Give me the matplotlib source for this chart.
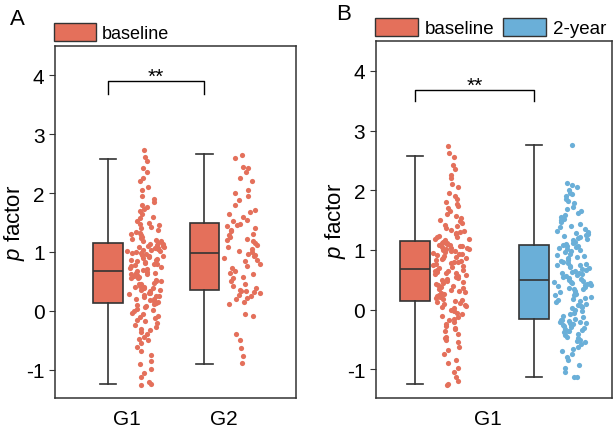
import numpy as np
import matplotlib.pyplot as plt
from matplotlib.patches import Patch

plt.rcParams['font.family'] = ['Liberation Sans', 'DejaVu Sans']
plt.rcParams['mathtext.fontset'] = 'custom'
plt.rcParams['mathtext.it'] = 'Liberation Sans:italic'
plt.rcParams['mathtext.rm'] = 'Liberation Sans'

red = '#E4705B'
blue = '#6AAFD8'
edge = '#333333'

# box statistics (whisker low, q1, median, q3, whisker high)
g1_base_box = [-1.24, 0.14, 0.68, 1.15, 2.58]
g2_base_box = [-0.90, 0.36, 0.98, 1.49, 2.66]
g1_2yr_box = [-1.13, -0.16, 0.49, 1.09, 2.76]

# individual p factor values (estimated)
g1_base = [-1.26, -1.24, -1.20, -1.12, -1.05, -0.98, -0.90, -0.85, -0.75, -0.68,
           -0.62, -0.55, -0.50, -0.48, -0.45, -0.40, -0.36, -0.33, -0.30, -0.27,
           -0.24, -0.20, -0.18, -0.15, -0.12, -0.10, -0.08, -0.05, -0.03, 0.00,
           0.02, 0.04, 0.06, 0.08, 0.10, 0.11, 0.13,
           0.15, 0.17, 0.18, 0.20, 0.21, 0.23, 0.25, 0.26, 0.27, 0.28, 0.30, 0.31,
           0.33, 0.35, 0.36, 0.38, 0.38, 0.40, 0.41, 0.43, 0.45, 0.46, 0.48, 0.50,
           0.51, 0.53, 0.55, 0.56, 0.58, 0.60, 0.61, 0.62, 0.63, 0.64, 0.65, 0.66,
           0.67,
           0.70, 0.71, 0.73, 0.74, 0.76, 0.78, 0.79, 0.80, 0.82, 0.83, 0.85, 0.86,
           0.87, 0.88, 0.90, 0.91, 0.93, 0.94, 0.95, 0.96, 0.98, 0.99, 1.00, 1.01,
           1.02, 1.03, 1.04, 1.05, 1.06, 1.07, 1.08, 1.09, 1.10, 1.11, 1.12, 1.13,
           1.14,
           1.16, 1.18, 1.19, 1.21, 1.22, 1.24, 1.26, 1.28, 1.30, 1.32, 1.34, 1.37,
           1.40, 1.42, 1.45, 1.48, 1.50, 1.53, 1.57, 1.60, 1.65, 1.70, 1.73, 1.77,
           1.80, 1.85, 1.90, 1.95, 2.05, 2.10, 2.20, 2.25, 2.35, 2.42, 2.55, 2.62,
           2.74]

g2_base = [-0.89, -0.77, -0.63, -0.49, -0.40, -0.08, -0.05, 0.12, 0.15, 0.20,
           0.22, 0.25, 0.27, 0.30, 0.32, 0.33, 0.34, 0.35,
           0.38, 0.42, 0.45, 0.50, 0.55, 0.58, 0.62, 0.65, 0.68, 0.72, 0.76, 0.80,
           0.84, 0.86, 0.90, 0.93, 0.95, 0.97,
           1.00, 1.02, 1.05, 1.08, 1.12, 1.15, 1.18, 1.20, 1.22, 1.25, 1.28, 1.30,
           1.35, 1.38, 1.40, 1.44, 1.46, 1.48,
           1.52, 1.55, 1.60, 1.65, 1.68, 1.72, 1.80, 1.88, 1.95, 2.00, 2.05, 2.20,
           2.25, 2.35, 2.42, 2.45, 2.60, 2.65]

g1_2yr = [-1.13, -1.12, -1.05, -0.98, -0.92, -0.85, -0.80, -0.75, -0.70, -0.66,
          -0.62, -0.58, -0.55, -0.52, -0.50, -0.48, -0.45, -0.43, -0.40, -0.38,
          -0.36, -0.35, -0.34, -0.32, -0.30, -0.29, -0.27, -0.26, -0.25, -0.24,
          -0.23, -0.22, -0.21, -0.20, -0.19, -0.18, -0.17,
          -0.15, -0.13, -0.10, -0.08, -0.05, -0.03, 0.00, 0.02, 0.04, 0.06, 0.08,
          0.10, 0.12, 0.14, 0.16, 0.18, 0.20, 0.22, 0.24, 0.25, 0.26, 0.28, 0.30,
          0.32, 0.34, 0.35, 0.36, 0.38, 0.40, 0.41, 0.42, 0.43, 0.44, 0.45, 0.46,
          0.47, 0.48,
          0.50, 0.52, 0.53, 0.55, 0.57, 0.58, 0.60, 0.61, 0.62, 0.63, 0.65, 0.67,
          0.68, 0.70, 0.72, 0.73, 0.74, 0.75, 0.77, 0.78, 0.80, 0.82, 0.84, 0.86,
          0.88, 0.90, 0.92, 0.94, 0.96, 0.98, 1.00, 1.02, 1.04, 1.05, 1.06, 1.07,
          1.08,
          1.10, 1.12, 1.14, 1.16, 1.18, 1.20, 1.22, 1.24, 1.25, 1.26, 1.28, 1.30,
          1.32, 1.35, 1.38, 1.40, 1.43, 1.46, 1.50, 1.52, 1.55, 1.58, 1.62, 1.65,
          1.68, 1.72, 1.78, 1.82, 1.86, 1.90, 1.93, 1.96, 2.00, 2.05, 2.08, 2.12,
          2.76]


def box(ax, st, pos, color):
    stats = [dict(whislo=st[0], q1=st[1], med=st[2], q3=st[3], whishi=st[4])]
    ax.bxp(stats, positions=[pos], widths=0.31, showfliers=False,
           patch_artist=True, manage_ticks=False,
           boxprops=dict(facecolor=color, edgecolor=edge, linewidth=1.2),
           medianprops=dict(color=edge, linewidth=1.2),
           whiskerprops=dict(color=edge, linewidth=1.2),
           capprops=dict(color=edge, linewidth=1.2),
           capwidths=0.17)


def dots(ax, vals, pos, color, w=0.2):
    # sina-style spread: width follows the local density of the values
    y = np.sort(np.array(vals))
    d = np.exp(-0.5 * ((y[:, None] - y[None, :]) / 0.25) ** 2).sum(axis=1)
    d = (d / d.max()) ** 0.6
    i = np.arange(len(y)) + 1.0
    u = (np.sin(i * 12.9898 + pos * 78.233) * 43758.5453) % 1 * 2 - 1
    ax.scatter(pos + w * d * u, y, s=14, color=color, linewidths=0, zorder=3)


def style(ax):
    ax.set_ylim(-1.48, 4.5)
    ax.set_yticks([-1, 0, 1, 2, 3, 4])
    ax.set_yticklabels(['-1', '0', '1', '2', '3', '4'])
    ax.tick_params(axis='y', direction='out', length=4, labelsize=15, color=edge)
    ax.tick_params(axis='x', length=0, labelsize=15, pad=8)
    for s in ax.spines.values():
        s.set_color(edge)
        s.set_linewidth(1.1)
    ax.set_ylabel(r'$\mathit{p}$ factor', fontsize=16, labelpad=-1)


def bracket(ax, x1, x2, top, low):
    ax.plot([x1, x1, x2, x2], [low, top, top, low], color='black', lw=1)
    ax.text((x1 + x2) / 2, top - 0.01, '**', ha='center', va='baseline', fontsize=15)


fig = plt.figure(figsize=(6.15, 4.31), dpi=100)

# panel A
axA = fig.add_axes([0.0894, 0.0742, 0.392, 0.817])
box(axA, g1_base_box, 0.8, red)
dots(axA, g1_base, 1.19, red)
box(axA, g2_base_box, 1.8, red)
dots(axA, g2_base, 2.2, red)
axA.set_xlim(0.25, 2.75)
axA.set_xticks([1, 2])
axA.set_xticklabels(['G1', 'G2'])
style(axA)
bracket(axA, 0.8, 1.8, 3.9, 3.68)
axA.legend(handles=[Patch(facecolor=red, edgecolor=edge, label='baseline')],
           loc='lower left', bbox_to_anchor=(-0.018, 1.0), frameon=False,
           borderpad=0.1, borderaxespad=0.1, handlelength=2.3, handleheight=1.1,
           handletextpad=0.35, fontsize=13)
fig.text(0.016, 0.978, 'A', fontsize=16, va='top')

# panel B
axB = fig.add_axes([0.611, 0.0742, 0.384, 0.8284])
box(axB, g1_base_box, 0.405, red)
dots(axB, g1_base, 0.79, red)
box(axB, g1_2yr_box, 1.64, blue)
dots(axB, g1_2yr, 2.04, blue)
axB.set_xlim(0, 2.45)
axB.set_xticks([1.16])
axB.set_xticklabels(['G1'])
style(axB)
bracket(axB, 0.405, 1.64, 3.68, 3.5)
axB.legend(handles=[Patch(facecolor=red, edgecolor=edge, label='baseline'),
                    Patch(facecolor=blue, edgecolor=edge, label='2-year')],
           loc='lower left', bbox_to_anchor=(-0.018, 1.0), frameon=False, ncol=2,
           borderpad=0.1, borderaxespad=0.1, handlelength=2.3, handleheight=1.1,
           handletextpad=0.35, columnspacing=0.45, fontsize=13.5)
fig.text(0.546, 0.99, 'B', fontsize=16, va='top')

fig.savefig('out.png', dpi=100)
